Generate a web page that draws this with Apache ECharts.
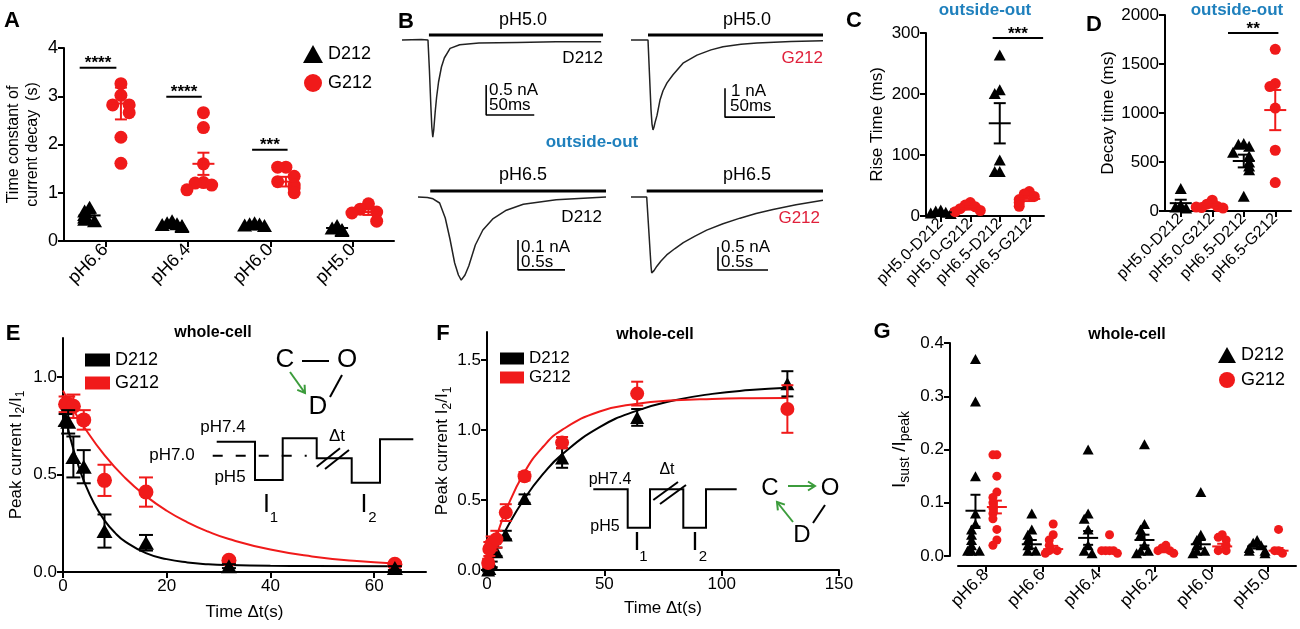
<!DOCTYPE html>
<html><head><meta charset="utf-8">
<script src="https://cdn.jsdelivr.net/npm/echarts@6/dist/echarts.min.js"></script>
<style>html,body{margin:0;padding:0;background:#fff}#c{width:1300px;height:629px}</style>
</head><body><div id="c"></div>
<script>
// ---------------- DATA ----------------
// Panel A: time constant of current decay (s)
const aCategories = ['pH6.6','pH6.4','pH6.0','pH5.0'];
const aD212 = [[0.70,0.62,0.55,0.50,0.45,0.42],[0.42,0.38,0.36,0.34,0.32,0.30],[0.38,0.36,0.35,0.33,0.32],[0.32,0.27,0.24,0.22]];
const aG212 = [[3.26,3.02,2.82,2.82,2.66,2.15,1.61],[2.66,2.35,1.60,1.21,1.20,1.16,1.06],[1.53,1.53,1.34,1.23,1.16,1.10,1.00],[0.77,0.66,0.60,0.58,0.41]];
const aD212Mean = [0.53,0.36,0.35,0.27];
const aD212Sem = [0.04,0.02,0.02,0.02];
const aG212Mean = [2.85,1.60,1.23,0.60];
const aG212Sem = [0.33,0.23,0.10,0.06];
const aSig = [[-0.31,0.135,3.59],[0.74,1.17,2.99],[1.78,2.21,1.89]];
const aSigLabels = ['****','****','***'];

// Panel B: current traces (time, current nA)
const bD212pH50 = [[0,0],[20,0.01],[27,0],[28.5,-0.5],[30,-1.1],[31,-1.45],[32,-1.62],[33,-1.5],[34.5,-1.2],[36,-0.95],[38,-0.7],[41,-0.45],[44,-0.3],[50,-0.14],[60,-0.08],[80,-0.05],[120,-0.04],[160,-0.03],[207,-0.03]];
const bG212pH50 = [[0,0],[17,0],[18.5,-1.2],[20,-2.4],[21,-2.9],[22,-3.1],[23,-3.0],[24,-2.85],[26,-2.6],[29,-2.07],[32,-1.75],[36,-1.48],[42,-1.2],[52,-0.8],[66,-0.52],[80,-0.34],[92,-0.23],[110,-0.15],[126,-0.1],[160,-0.05],[192,-0.03]];
const bD212pH65 = [[0,0],[0.10,-0.002],[0.16,-0.006],[0.23,-0.02],[0.29,-0.07],[0.34,-0.14],[0.39,-0.22],[0.43,-0.26],[0.46,-0.277],[0.50,-0.26],[0.54,-0.23],[0.61,-0.16],[0.69,-0.11],[0.80,-0.072],[0.94,-0.044],[1.12,-0.024],[1.47,-0.009],[2.0,0]];
const bG212pH65 = [[0,0],[0.157,0],[0.18,-0.8],[0.2,-1.5],[0.207,-1.65],[0.23,-1.6],[0.257,-1.51],[0.30,-1.39],[0.357,-1.26],[0.44,-1.12],[0.523,-0.99],[0.64,-0.85],[0.757,-0.72],[0.92,-0.58],[1.09,-0.46],[1.25,-0.36],[1.42,-0.27],[1.65,-0.17],[1.92,-0.07]];
const bStimD50 = [[28,0.083],[209,0.083]];
const bStimG50 = [[17,0.17],[192,0.17]];
const bStimD65 = [[0.13,0.02],[2.0,0.02]];
const bStimG65 = [[0.157,0.13],[1.92,0.13]];
const bScaleD50 = [[87.5,-0.75],[87.5,-1.25],[137.5,-1.25]];   // 0.5 nA, 50 ms
const bScaleG50 = [[94,-1.66],[94,-2.66],[144,-2.66]];         // 1 nA, 50 ms
const bScaleD65 = [[1.064,-0.143],[1.064,-0.243],[1.564,-0.243]]; // 0.1 nA, 0.5 s
const bScaleG65 = [[0.87,-1.087],[0.87,-1.587],[1.37,-1.587]];    // 0.5 nA, 0.5 s

// Panels C & D
const cdCategories = ['pH5.0-D212','pH5.0-G212','pH6.5-D212','pH6.5-G212'];
const cValues = [[10,8,6,5,4,3],[22,18,15,12,9,7],[264,207,201,92,73,73],[40,36,32,27,22,16]];
const cMean = [6,13,152,28];
const cSem = [1,2.5,33,3.5];
const cSig = [[1.76,3.47,292]];
const cSigLabels = ['***'];
const dValues = [[230,60,40,30],[110,70,45,35,30,40],[690,680,660,600,560,500,460,420,150],[1650,1300,1270,1050,620,290]];
const dMean = [80,50,510,1030];
const dSem = [35,15,65,205];
const dSig = [[1.5,3.1,1816]];
const dSigLabels = ['**'];

// Panel E
const eTime = [0.5,1,2,4,8,16,32,64];
const eD212 = [0.78,0.77,0.59,0.54,0.21,0.15,0.03,0.02];
const eD212Err = [0.03,0.06,0.105,0.085,0.085,0.04,0.01,0.01];
const eG212 = [0.86,0.86,0.85,0.78,0.47,0.41,0.06,0.04];
const eG212Err = [0.04,0.04,0.06,0.05,0.08,0.075,0.01,0.01];
const eD212Fit = [[0,0.85],[1,0.731],[2,0.63],[3,0.543],[4,0.469],[6,0.351],[8,0.265],[10,0.202],[12,0.156],[16,0.097],[20,0.066],[24,0.049],[28,0.04],[32,0.0355],[40,0.0316],[48,0.0305],[64,0.03]];
const eG212Fit = [[0,0.93],[2,0.833],[4,0.746],[8,0.599],[12,0.482],[16,0.389],[20,0.314],[24,0.255],[28,0.207],[32,0.169],[40,0.115],[48,0.08],[56,0.058],[64,0.044]];

// Panel F
const fTime = [0.5,1,2,4,8,16,32,64,128];
const fD212 = [0.00,0.01,0.04,0.13,0.25,0.51,0.80,1.09,1.33];
const fD212Err = [0.01,0.01,0.02,0.03,0.03,0.03,0.07,0.06,0.09];
const fG212 = [0.05,0.15,0.19,0.22,0.41,0.67,0.91,1.26,1.15];
const fG212Err = [0.03,0.05,0.05,0.06,0.06,0.03,0.04,0.085,0.17];
const fD212Fit = [[0,0],[2,0.078],[4,0.152],[8,0.286],[16,0.511],[24,0.688],[32,0.826],[48,1.02],[64,1.138],[80,1.212],[96,1.258],[112,1.285],[128,1.302]];
const fG212Fit = [[0,0],[2,0.123],[4,0.233],[8,0.423],[16,0.70],[24,0.882],[32,1.001],[48,1.132],[64,1.188],[80,1.212],[96,1.222],[112,1.227],[128,1.229]];

// Panel G
const gCategories = ['pH6.8','pH6.6','pH6.4','pH6.2','pH6.0','pH5.0'];
const gD212 = [[0.37,0.29,0.15,0.08,0.06,0.05,0.04,0.03,0.02,0.01,0.01,0.01],[0.08,0.05,0.04,0.03,0.02,0.01,0.01],[0.20,0.08,0.07,0.05,0.02,0.01,0.005],[0.21,0.06,0.05,0.04,0.02,0.01,0.01,0.005],[0.12,0.04,0.03,0.02,0.01,0.01,0.005],[0.03,0.025,0.02,0.015,0.01,0.01,0.005]];
const gG212 = [[0.19,0.19,0.15,0.12,0.11,0.10,0.09,0.08,0.07,0.05,0.03,0.02],[0.06,0.04,0.03,0.02,0.01,0.01,0.005],[0.04,0.01,0.01,0.01,0.01,0.005],[0.02,0.015,0.01,0.01,0.005],[0.04,0.035,0.03,0.02,0.01,0.01],[0.05,0.01,0.01,0.005]];
const gD212Mean = [0.085,0.022,0.034,0.03,0.022,0.018];
const gD212Sem = [0.03,0.008,0.013,0.01,0.008,0.004];
const gG212Mean = [0.092,0.013,0.01,0.01,0.018,0.01];
const gG212Sem = [0.012,0.006,0.004,0.003,0.005,0.005];

// ---------------- STYLE ----------------
const FONT = '"Liberation Sans", Arial, sans-serif';
const RED = '#f01a1a';
const BLACK = '#000000';
const BLUE = '#1f80bd';
const TEXTRED = '#e0203a';
const GREEN = '#3c9c3c';

function merge(a,b){const r=Object.assign({},a);for(const k in b){if(b[k]&&typeof b[k]==='object'&&!Array.isArray(b[k])&&r[k]&&typeof r[k]==='object'&&!Array.isArray(r[k]))r[k]=merge(r[k],b[k]);else r[k]=b[k];}return r;}
const baseAxis = {
  axisLine:{show:true,onZero:false,lineStyle:{color:'#000',width:2}},
  axisTick:{show:true,length:6,lineStyle:{color:'#000',width:2}},
  axisLabel:{color:'#000',fontSize:17,fontFamily:FONT,margin:6},
  splitLine:{show:false},
  nameTextStyle:{color:'#000',fontSize:17,fontFamily:FONT}
};
function ax(o){return merge(baseAxis,o);}
function hid(gi,min,max){return {type:'value',gridIndex:gi,min:min,max:max,show:false};}

// deterministic beeswarm spread of points that overlap
function swarm(vals, x0, step, thresh){
  const placed=[], out=[];
  vals.forEach(v=>{
    let k=0; placed.forEach(p=>{if(Math.abs(p-v)<thresh)k++;});
    const off = k===0?0:(k%2?-1:1)*Math.ceil(k/2)*step;
    out.push([x0+off,v]); placed.push(v);
  });
  return out;
}
function swarmGroups(groups, dx, step, thresh){
  let out=[]; groups.forEach((g,i)=>{out=out.concat(swarm(g,i+dx,step,thresh));}); return out;
}

function meanSem(halfW, capW, colors){
  return function(params, api){
    const x=api.value(0), m=api.value(1), s=api.value(2);
    const pm=api.coord([x,m]), ph=api.coord([x,m+s]), pl=api.coord([x,m-s]);
    const c = colors ? colors[params.dataIndex] : api.visual('color');
    const st={stroke:c,lineWidth:2};
    return {type:'group',children:[
      {type:'line',shape:{x1:pm[0]-halfW,y1:pm[1],x2:pm[0]+halfW,y2:pm[1]},style:st},
      {type:'line',shape:{x1:pm[0],y1:ph[1],x2:pm[0],y2:pl[1]},style:st},
      {type:'line',shape:{x1:pm[0]-capW,y1:ph[1],x2:pm[0]+capW,y2:ph[1]},style:st},
      {type:'line',shape:{x1:pm[0]-capW,y1:pl[1],x2:pm[0]+capW,y2:pl[1]},style:st}
    ]};
  };
}
function errBar(capW){
  return function(params, api){
    const x=api.value(0), v=api.value(1), e=api.value(2);
    const ph=api.coord([x,v+e]), pl=api.coord([x,v-e]);
    const st={stroke:api.visual('color'),lineWidth:2};
    return {type:'group',children:[
      {type:'line',shape:{x1:ph[0],y1:ph[1],x2:pl[0],y2:pl[1]},style:st},
      {type:'line',shape:{x1:ph[0]-capW,y1:ph[1],x2:ph[0]+capW,y2:ph[1]},style:st},
      {type:'line',shape:{x1:pl[0]-capW,y1:pl[1],x2:pl[0]+capW,y2:pl[1]},style:st}
    ]};
  };
}
function sigRender(labels){
  return function(params, api){
    const p1=api.coord([api.value(0),api.value(2)]), p2=api.coord([api.value(1),api.value(2)]);
    return {type:'group',children:[
      {type:'line',shape:{x1:p1[0],y1:p1[1],x2:p2[0],y2:p2[1]},style:{stroke:'#000',lineWidth:2}},
      {type:'text',x:(p1[0]+p2[0])/2,y:p1[1]-4,style:{text:labels[params.dataIndex],fill:'#000',font:'bold 17px '+FONT,align:'center',verticalAlign:'middle'}}
    ]};
  };
}

// ---------------- GRAPHIC ANNOTATIONS ----------------
function T(x,y,text,size,o){
  o=o||{};
  return {type:'text',x:x,y:y,z:50,style:{text:text,fill:o.fill||'#000',font:(o.weight||'normal')+' '+size+'px '+FONT,align:o.align||'center',verticalAlign:'middle'}};
}
function PL(points,o){o=o||{};return {type:'polyline',z:50,shape:{points:points},style:{stroke:o.color||'#000',lineWidth:o.w||2,fill:null,lineDash:o.dash||null}};}
function arrow(x1,y1,x2,y2,color){
  const dx=x2-x1, dy=y2-y1, L=Math.sqrt(dx*dx+dy*dy), ux=dx/L, uy=dy/L, px=-uy, py=ux;
  return [PL([[x1,y1],[x2,y2]],{color:color,w:2}),
          PL([[x2-7*ux+4.5*px,y2-7*uy+4.5*py],[x2,y2],[x2-7*ux-4.5*px,y2-7*uy-4.5*py]],{color:color,w:2})];
}
let graphics = [
  T(12,21,'A',22,{weight:'bold'}), T(406,22,'B',22,{weight:'bold'}), T(854,21,'C',22,{weight:'bold'}),
  T(1094,25,'D',22,{weight:'bold'}), T(13,334,'E',22,{weight:'bold'}), T(443,334,'F',22,{weight:'bold'}),
  T(882,332,'G',22,{weight:'bold'}),
  T(592,142,'outside-out',17,{weight:'bold',fill:BLUE}), T(985,10,'outside-out',17,{weight:'bold',fill:BLUE}),
  T(1237,10,'outside-out',17,{weight:'bold',fill:BLUE}),
  T(213,333,'whole-cell',16,{weight:'bold'}), T(655,335,'whole-cell',16,{weight:'bold'}), T(1127,335,'whole-cell',16,{weight:'bold'}),
  // panel B labels
  T(523,20,'pH5.0',18), T(747,20,'pH5.0',18), T(523,175,'pH6.5',18), T(747,175,'pH6.5',18),
  T(603,58,'D212',17,{align:'right'}), T(823,58,'G212',17,{align:'right',fill:TEXTRED}),
  T(602,217,'D212',17,{align:'right'}), T(820,218,'G212',17,{align:'right',fill:TEXTRED}),
  T(489,90,'0.5 nA',17,{align:'left'}), T(489,105,'50ms',17,{align:'left'}),
  T(731,91,'1 nA',17,{align:'left'}), T(730,106,'50ms',17,{align:'left'}),
  T(521,247,'0.1 nA',17,{align:'left'}), T(521,262,'0.5s',17,{align:'left'}),
  T(721,247,'0.5 nA',17,{align:'left'}), T(721,262,'0.5s',17,{align:'left'}),
  // panel E inset
  T(285,360,'C',26), T(347,360,'O',26), T(318,407,'D',26),
  PL([[302,361],[329,361]]), PL([[342,375],[330,397]]),
  T(223,427,'pH7.4',17), T(172,455,'pH7.0',17), T(230,477,'pH5',17), T(337,436,'Δt',17),
  PL([[216.7,441.7],[255,441.7],[255,480],[282.7,480],[282.7,438.3],[316.7,438.3],[316.7,458.3],[351.7,458.3],[351.7,482.7],[380,482.7],[380,439.3],[413.3,439.3]]),
  PL([[212.7,455.7],[306.7,455.7]],{dash:[10,13]}),
  PL([[316.7,466.7],[340,448.3]]), PL([[325,469],[349,450]]),
  T(266.5,505,'I',25), T(274,518,'1',15), T(364,505,'I',25), T(372.5,518,'2',15),
  // panel F inset
  T(770,488,'C',24), T(830,488,'O',24), T(802,535,'D',24),
  PL([[825,505],[813,523]]),
  T(610,480,'pH7.4',16), T(605,527,'pH5',16), T(667,470,'Δt',16),
  PL([[593.3,489.3],[627.7,489.3],[627.7,527.7],[650,527.7],[650,489.3],[683.3,489.3],[683.3,527.7],[706,527.7],[706,489.3],[736.7,489.3]]),
  PL([[653.3,500],[678,482]]), PL([[660,504],[686,485]]),
  T(637,543,'I',25), T(643.5,557,'1',15), T(695,543,'I',25), T(703,557,'2',15)
];
graphics = graphics.concat(arrow(290,372,305,393,GREEN), arrow(788,486,815,486,GREEN), arrow(793,522,777,502,GREEN));

// ---------------- OPTION ----------------
const subRich = {
  t:{fontSize:17,fontFamily:FONT,color:'#000',lineHeight:22},
  s:{fontSize:12,fontFamily:FONT,color:'#000',verticalAlign:'bottom',lineHeight:22}
};
const legendBase = {orient:'vertical',selectedMode:false,textStyle:{fontSize:18,fontFamily:FONT,color:'#000'},formatter:n=>n.split(':')[1],padding:0};

const option = {
  animation:false,
  backgroundColor:'#fff',
  textStyle:{fontFamily:FONT},
  grid:[
    {left:64,top:48,width:330,height:193},       // 0 A
    {left:926,top:33,width:118,height:183},      // 1 C
    {left:1165,top:15,width:126,height:196},     // 2 D
    {left:63,top:338,width:363,height:234},      // 3 E
    {left:487,top:332,width:352,height:238},     // 4 F
    {left:958,top:343,width:338,height:213},     // 5 G
    {left:402,top:34,width:202,height:108},      // 6 B D212 pH5.0
    {left:631,top:34.2,width:195,height:101.5},  // 7 B G212 pH5.0
    {left:418,top:188,width:197.4,height:96},    // 8 B D212 pH6.5
    {left:631,top:190.1,width:195,height:87.4}   // 9 B G212 pH6.5
  ],
  xAxis:[
    ax({type:'category',gridIndex:0,position:'bottom',data:aCategories,axisTick:{alignWithLabel:true},axisLabel:{rotate:45,fontSize:18}}),
    hid(0,-0.5,3.5),
    ax({type:'category',gridIndex:1,position:'bottom',data:cdCategories,axisTick:{alignWithLabel:true},axisLabel:{rotate:45,fontSize:16,margin:5}}),
    hid(1,-0.5,3.5),
    ax({type:'category',gridIndex:2,position:'bottom',data:cdCategories,axisTick:{alignWithLabel:true},axisLabel:{rotate:45,fontSize:16,margin:5}}),
    hid(2,-0.5,3.5),
    ax({type:'value',gridIndex:3,position:'bottom',min:0,max:70,interval:20,name:'Time Δt(s)',nameLocation:'middle',nameGap:32,
        axisTick:{customValues:[0,20,40,60]},axisLabel:{customValues:[0,20,40,60],formatter:v=>(v%20===0?v:'')}}),
    ax({type:'value',gridIndex:4,position:'bottom',min:0,max:150,interval:50,name:'Time Δt(s)',nameLocation:'middle',nameGap:30}),
    ax({type:'category',gridIndex:5,position:'bottom',offset:10,data:gCategories,axisTick:{alignWithLabel:true},axisLabel:{rotate:45,fontSize:17}}),
    hid(5,-0.5,5.5),
    hid(6,0,210), hid(7,0,195), hid(8,0,2.1), hid(9,0,1.95)
  ],
  yAxis:[
    ax({type:'value',gridIndex:0,min:0,max:4,interval:1,name:'Time constant of\ncurrent decay  (s)',nameLocation:'middle',nameGap:22,
        nameTextStyle:{fontSize:16,lineHeight:19},axisLabel:{fontSize:18}}),
    ax({type:'value',gridIndex:1,min:0,max:300,interval:100,name:'Rise Time (ms)',nameLocation:'middle',nameGap:40}),
    ax({type:'value',gridIndex:2,min:0,max:2000,interval:500,name:'Decay time (ms)',nameLocation:'middle',nameGap:48,axisLabel:{formatter:v=>String(v)}}),
    ax({type:'value',gridIndex:3,min:0,max:1.2,interval:0.5,name:'{t|Peak current I}{s|2}{t|/I}{s|1}',nameLocation:'middle',nameGap:36,
        nameTextStyle:{rich:subRich},axisTick:{customValues:[0,0.5,1]},
        axisLabel:{customValues:[0,0.5,1],formatter:v=>(Math.abs(v*2-Math.round(v*2))<1e-6?v.toFixed(1):'')}}),
    ax({type:'value',gridIndex:4,min:0,max:1.7,interval:0.5,name:'{t|Peak current I}{s|2}{t|/I}{s|1}',nameLocation:'middle',nameGap:30,
        nameTextStyle:{rich:subRich},axisTick:{customValues:[0,0.5,1,1.5]},
        axisLabel:{customValues:[0,0.5,1,1.5],formatter:v=>(Math.abs(v*2-Math.round(v*2))<1e-6?v.toFixed(1):'')}}),
    ax({type:'value',gridIndex:5,min:0,max:0.4,interval:0.1,offset:8,name:'{t|I}{s|sust}{t| /I}{s|peak}',nameLocation:'middle',nameGap:38,
        nameTextStyle:{rich:{t:{fontSize:19,fontFamily:FONT,color:'#000',lineHeight:24},s:{fontSize:14,fontFamily:FONT,color:'#000',verticalAlign:'bottom',lineHeight:24}}},
        axisLabel:{formatter:v=>v.toFixed(1)}}),
    hid(6,-1.7,0.1), hid(7,-3.3,0.2), hid(8,-0.29,0.03), hid(9,-1.75,0.15)
  ],
  legend:[
    merge(legendBase,{left:303,top:45,itemWidth:20,itemHeight:18,itemGap:11,data:[{name:'A:D212',icon:'triangle'},{name:'A:G212',icon:'circle'}]}),
    merge(legendBase,{left:85,top:351,itemWidth:25,itemHeight:13,itemGap:5,data:[{name:'E:D212',icon:'rect'},{name:'E:G212',icon:'rect'}]}),
    merge(legendBase,{left:500,top:350,itemWidth:24,itemHeight:12,itemGap:2,textStyle:{fontSize:17},data:[{name:'F:D212',icon:'rect'},{name:'F:G212',icon:'rect'}]}),
    merge(legendBase,{left:1218,top:346,itemWidth:18,itemHeight:16,itemGap:7,data:[{name:'G:D212',icon:'triangle'},{name:'G:G212',icon:'circle'}]})
  ],
  graphic:graphics,
  series:[]
};

const S = option.series;
const sty = c => ({color:c, opacity:1});
// ---- A ----
S.push({name:'A:D212',type:'scatter',xAxisIndex:1,yAxisIndex:0,symbol:'triangle',symbolSize:[15,13],itemStyle:sty(BLACK),data:swarmGroups(aD212,-0.19,0.06,0.1),z:3});
S.push({name:'A:G212',type:'scatter',xAxisIndex:1,yAxisIndex:0,symbol:'circle',symbolSize:13,itemStyle:sty(RED),data:swarmGroups(aG212,0.19,0.1,0.22),z:3});
S.push({name:'A:D212 mean',type:'custom',xAxisIndex:1,yAxisIndex:0,itemStyle:sty(BLACK),renderItem:meanSem(11,6),data:aD212Mean.map((m,i)=>[i-0.19,m,aD212Sem[i]]),z:5});
S.push({name:'A:G212 mean',type:'custom',xAxisIndex:1,yAxisIndex:0,itemStyle:sty(RED),renderItem:meanSem(11,6),data:aG212Mean.map((m,i)=>[i+0.19,m,aG212Sem[i]]),z:5});
S.push({name:'A:sig',type:'custom',xAxisIndex:1,yAxisIndex:0,renderItem:sigRender(aSigLabels),data:aSig,z:5});

// ---- C & D ----
const cdColors=[BLACK,RED,BLACK,RED];
function cdSeries(prefix, values, mean, sem, xi, yi, step, thresh, sig, sigLabels){
  const dPts=[], gPts=[];
  values.forEach((g,i)=>{const pts=swarm(g,i,step,thresh); if(i%2===0) dPts.push(...pts); else gPts.push(...pts);});
  S.push({name:prefix+':D212',type:'scatter',xAxisIndex:xi,yAxisIndex:yi,symbol:'triangle',symbolSize:[12,11],itemStyle:sty(BLACK),data:dPts,z:3});
  S.push({name:prefix+':G212',type:'scatter',xAxisIndex:xi,yAxisIndex:yi,symbol:'circle',symbolSize:11,itemStyle:sty(RED),data:gPts,z:3});
  S.push({name:prefix+':mean',type:'custom',xAxisIndex:xi,yAxisIndex:yi,renderItem:meanSem(11,6,cdColors),data:mean.map((m,i)=>[i,m,sem[i]]),z:5});
  S.push({name:prefix+':sig',type:'custom',xAxisIndex:xi,yAxisIndex:yi,renderItem:sigRender(sigLabels),data:sig,z:5});
}
cdSeries('C',cValues,cMean,cSem,3,1,0.17,17,cSig,cSigLabels);
cdSeries('D',dValues,dMean,dSem,5,2,0.17,110,dSig,dSigLabels);

// ---- E ----
S.push({name:'E:G212 fit',type:'line',xAxisIndex:6,yAxisIndex:3,smooth:true,showSymbol:false,lineStyle:{color:RED,width:2},data:eG212Fit,z:2});
S.push({name:'E:D212 fit',type:'line',xAxisIndex:6,yAxisIndex:3,smooth:true,showSymbol:false,lineStyle:{color:BLACK,width:2},data:eD212Fit,z:2});
S.push({name:'E:G212 err',type:'custom',xAxisIndex:6,yAxisIndex:3,itemStyle:sty(RED),renderItem:errBar(7),data:eTime.map((t,i)=>[t,eG212[i],eG212Err[i]]),z:3});
S.push({name:'E:G212',type:'scatter',xAxisIndex:6,yAxisIndex:3,symbol:'circle',symbolSize:15,itemStyle:sty(RED),data:eTime.map((t,i)=>[t,eG212[i]]),z:3});
S.push({name:'E:D212 err',type:'custom',xAxisIndex:6,yAxisIndex:3,itemStyle:sty(BLACK),renderItem:errBar(7),data:eTime.map((t,i)=>[t,eD212[i],eD212Err[i]]),z:4});
S.push({name:'E:D212',type:'scatter',xAxisIndex:6,yAxisIndex:3,symbol:'triangle',symbolSize:[16,14],itemStyle:sty(BLACK),data:eTime.map((t,i)=>[t,eD212[i]]),z:4});

// ---- F ----
S.push({name:'F:D212 fit',type:'line',xAxisIndex:7,yAxisIndex:4,smooth:true,showSymbol:false,lineStyle:{color:BLACK,width:2},data:fD212Fit,z:2});
S.push({name:'F:G212 fit',type:'line',xAxisIndex:7,yAxisIndex:4,smooth:true,showSymbol:false,lineStyle:{color:RED,width:2},data:fG212Fit,z:2});
S.push({name:'F:D212 err',type:'custom',xAxisIndex:7,yAxisIndex:4,itemStyle:sty(BLACK),renderItem:errBar(6),data:fTime.map((t,i)=>[t,fD212[i],fD212Err[i]]),z:3});
S.push({name:'F:D212',type:'scatter',xAxisIndex:7,yAxisIndex:4,symbol:'triangle',symbolSize:[14,13],itemStyle:sty(BLACK),data:fTime.map((t,i)=>[t,fD212[i]]),z:3});
S.push({name:'F:G212 err',type:'custom',xAxisIndex:7,yAxisIndex:4,itemStyle:sty(RED),renderItem:errBar(6),data:fTime.map((t,i)=>[t,fG212[i],fG212Err[i]]),z:4});
S.push({name:'F:G212',type:'scatter',xAxisIndex:7,yAxisIndex:4,symbol:'circle',symbolSize:14,itemStyle:sty(RED),data:fTime.map((t,i)=>[t,fG212[i]]),z:4});

// ---- G ----
S.push({name:'G:D212',type:'scatter',xAxisIndex:9,yAxisIndex:5,symbol:'triangle',symbolSize:[11,10],itemStyle:sty(BLACK),data:swarmGroups(gD212,-0.19,0.07,0.016),z:3});
S.push({name:'G:G212',type:'scatter',xAxisIndex:9,yAxisIndex:5,symbol:'circle',symbolSize:9,itemStyle:sty(RED),data:swarmGroups(gG212,0.19,0.07,0.016),z:3});
S.push({name:'G:D212 mean',type:'custom',xAxisIndex:9,yAxisIndex:5,itemStyle:sty(BLACK),renderItem:meanSem(10,5),data:gD212Mean.map((m,i)=>[i-0.19,m,gD212Sem[i]]),z:5});
S.push({name:'G:G212 mean',type:'custom',xAxisIndex:9,yAxisIndex:5,itemStyle:sty(RED),renderItem:meanSem(10,5),data:gG212Mean.map((m,i)=>[i+0.19,m,gG212Sem[i]]),z:5});

// ---- B traces ----
function traceSeries(xi, yi, trace, stim, scale){
  S.push({type:'line',xAxisIndex:xi,yAxisIndex:yi,data:trace,showSymbol:false,clip:false,lineStyle:{color:'#222',width:1.5},z:2});
  S.push({type:'line',xAxisIndex:xi,yAxisIndex:yi,data:stim,showSymbol:false,clip:false,lineStyle:{color:'#000',width:3},z:2});
  S.push({type:'line',xAxisIndex:xi,yAxisIndex:yi,data:scale,showSymbol:false,clip:false,lineStyle:{color:'#000',width:1.6},z:2});
}
traceSeries(10,6,bD212pH50,bStimD50,bScaleD50);
traceSeries(11,7,bG212pH50,bStimG50,bScaleG50);
traceSeries(12,8,bD212pH65,bStimD65,bScaleD65);
traceSeries(13,9,bG212pH65,bStimG65,bScaleG65);

const chart = echarts.init(document.getElementById('c'));
chart.setOption(option);
</script></body></html>
